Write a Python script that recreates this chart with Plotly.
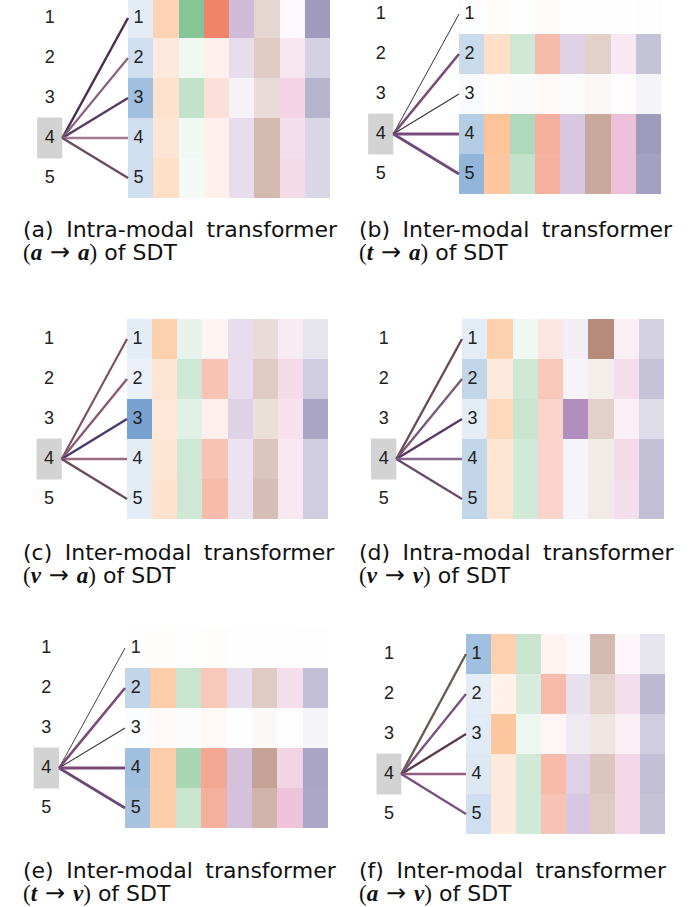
import plotly.graph_objects as go

# ---------------- data ----------------
ROWS = [1, 2, 3, 4, 5]
ROW_LABELS = ["1", "2", "3", "4", "5"]
FOCUS_ROW = 4
N_COLS = 8

# colour of each heat-map column at full intensity
COLUMN_COLORS = ["#78a3d0", "#fdc49a", "#86c596", "#f08468",
                 "#b08fc0", "#b78b7c", "#ebbdd6", "#9f9bbe"]

# attention intensities (rows 1..5, columns 1..8)
panel_a = [
    [0.20, 0.75, 1.00, 1.00, 0.60, 0.35, 0.10, 1.00],
    [0.35, 0.35, 0.12, 0.12, 0.30, 0.45, 0.40, 0.45],
    [0.70, 0.50, 0.50, 0.25, 0.12, 0.30, 0.65, 0.75],
    [0.35, 0.45, 0.12, 0.12, 0.30, 0.60, 0.50, 0.40],
    [0.35, 0.55, 0.10, 0.12, 0.30, 0.60, 0.55, 0.40],
]
panel_b = [
    [0.02, 0.03, 0.02, 0.03, 0.01, 0.01, 0.01, 0.02],
    [0.40, 0.55, 0.40, 0.55, 0.40, 0.40, 0.35, 0.60],
    [0.05, 0.05, 0.05, 0.05, 0.03, 0.06, 0.05, 0.10],
    [0.55, 1.00, 0.65, 0.65, 0.50, 0.75, 0.95, 1.00],
    [0.80, 0.95, 0.50, 0.63, 0.50, 0.75, 0.95, 0.95],
]
panel_c = [
    [0.20, 0.80, 0.20, 0.08, 0.30, 0.30, 0.30, 0.25],
    [0.15, 0.45, 0.40, 0.50, 0.30, 0.45, 0.55, 0.50],
    [1.00, 0.40, 0.25, 0.13, 0.40, 0.28, 0.45, 0.90],
    [0.20, 0.45, 0.40, 0.50, 0.25, 0.50, 0.35, 0.50],
    [0.20, 0.50, 0.40, 0.55, 0.25, 0.55, 0.35, 0.50],
]
panel_d = [
    [0.20, 0.80, 0.12, 0.20, 0.15, 1.00, 0.25, 0.45],
    [0.45, 0.35, 0.40, 0.45, 0.10, 0.15, 0.50, 0.60],
    [0.20, 0.65, 0.45, 0.35, 1.00, 0.40, 0.25, 0.35],
    [0.45, 0.45, 0.38, 0.35, 0.10, 0.18, 0.55, 0.62],
    [0.45, 0.45, 0.38, 0.35, 0.10, 0.18, 0.50, 0.65],
]
panel_e = [
    [0.01, 0.02, 0.01, 0.02, 0.01, 0.01, 0.01, 0.02],
    [0.45, 0.85, 0.45, 0.45, 0.30, 0.45, 0.50, 0.65],
    [0.03, 0.08, 0.03, 0.05, 0.01, 0.05, 0.03, 0.10],
    [0.70, 0.85, 0.70, 0.72, 0.55, 0.80, 0.65, 0.90],
    [0.65, 0.85, 0.45, 0.65, 0.55, 0.65, 0.90, 0.88],
]
panel_f = [
    [0.70, 0.80, 0.45, 0.10, 0.05, 0.60, 0.15, 0.25],
    [0.20, 0.20, 0.33, 0.55, 0.28, 0.38, 0.50, 0.70],
    [0.22, 0.95, 0.15, 0.07, 0.20, 0.22, 0.25, 0.50],
    [0.25, 0.35, 0.38, 0.55, 0.42, 0.50, 0.60, 0.65],
    [0.35, 0.35, 0.38, 0.50, 0.50, 0.45, 0.60, 0.60],
]

# link weights from the focus token (row 4) to rows 1..5
links_a = [0.75, 0.60, 0.75, 0.85, 0.70]
links_b = [0.05, 0.85, 0.10, 1.00, 0.85]
links_c = [0.60, 0.70, 0.75, 0.85, 0.70]
links_d = [0.70, 0.70, 0.75, 0.85, 0.70]
links_e = [0.05, 0.85, 0.10, 1.00, 0.85]
links_f = [0.70, 0.70, 0.70, 0.85, 0.70]

# link colours (styles)
link_colors_a = ["#4a2d4f", "#8a6080", "#5a3a64", "#a07890", "#6a4a64"]
link_colors_b = ["#222222", "#7a4c78", "#333333", "#7a4a78", "#6e4a78"]
link_colors_c = ["#7a5060", "#8a5a72", "#4a3a70", "#9a6a80", "#6a4a5a"]
link_colors_d = ["#6a4a52", "#7a5a74", "#5a3a64", "#8a6a8a", "#6a4a6a"]
link_colors_e = ["#333333", "#7a4c78", "#333333", "#7a4a78", "#6e4a78"]
link_colors_f = ["#6a5a50", "#7a5080", "#5a3a4a", "#906080", "#7a5080"]

CAPTION_TAG = ["(a)", "(b)", "(c)", "(d)", "(e)", "(f)"]
CAPTION_KIND = ["Intra-modal", "Inter-modal", "Inter-modal",
                "Intra-modal", "Inter-modal", "Inter-modal"]
CAPTION_SRC = ["a", "t", "v", "v", "t", "a"]
CAPTION_DST = ["a", "a", "a", "v", "v", "v"]

PANELS = [panel_a, panel_b, panel_c, panel_d, panel_e, panel_f]
LINKS = [links_a, links_b, links_c, links_d, links_e, links_f]
LINK_COLORS = [link_colors_a, link_colors_b, link_colors_c,
               link_colors_d, link_colors_e, link_colors_f]

# ---------------- layout (pixels) ----------------
W, H = 692, 907
ROW_PX = 40
# heat-map left/right edge, centre of row 1, caption anchor
GEOM = [
    dict(hl=128, hr=330, c1=18, cx=21, cy=229),
    dict(hl=459, hr=661, c1=14, cx=357, cy=229),
    dict(hl=127, hr=328, c1=339, cx=21, cy=552),
    dict(hl=462, hr=664, c1=339, cx=357, cy=552),
    dict(hl=125, hr=328, c1=648, cx=21, cy=870),
    dict(hl=466, hr=665, c1=654, cx=357, cy=870),
]
LABEL_X = -3.6
BOX_HALF = 0.5
LINE_END_X = -0.5
XMIN = -4.5
LINE_GAP = 23

TEXT_FONT = dict(family="Liberation Sans, Arial, sans-serif", size=18, color="#222222")
CAP_FONT = dict(family="DejaVu Sans, sans-serif", size=22, color="#111111")
SERIF = "font-family:'Liberation Serif',serif;font-size:23px"
ARROW = "font-family:'DejaVu Sans',sans-serif;font-size:24px"


def build_colorscale(colors):
    n = len(colors)
    cs = []
    for c, col in enumerate(colors):
        cs.append([c / n, "#ffffff"])
        cs.append([(c + 1) / n - 1e-6, col])
    cs[-1][0] = 1.0
    return cs


COLORSCALE = build_colorscale(COLUMN_COLORS)

fig = go.Figure()
layout_axes = {}

for i, (vals, links, lcols, g) in enumerate(zip(PANELS, LINKS, LINK_COLORS, GEOM)):
    k = "" if i == 0 else str(i + 1)
    xref, yref = "x" + k, "y" + k

    # links from focus row to each row
    for r, w, col in zip(ROWS, links, lcols):
        fig.add_trace(go.Scatter(
            x=[LABEL_X + BOX_HALF, LINE_END_X], y=[FOCUS_ROW, r],
            mode="lines", line=dict(color=col, width=0.8 + 2.2 * w),
            hoverinfo="skip", showlegend=False, xaxis=xref, yaxis=yref))

    # heat map: each column uses its own colour ramp
    z = [[c + 0.999 * v for c, v in enumerate(row)] for row in vals]
    fig.add_trace(go.Heatmap(
        z=z, x=list(range(N_COLS)), y=ROWS, zmin=0, zmax=N_COLS,
        colorscale=COLORSCALE, showscale=False, hoverinfo="skip",
        xaxis=xref, yaxis=yref))

    # token labels inside first column
    fig.add_trace(go.Scatter(
        x=[-0.08] * len(ROWS), y=ROWS, text=ROW_LABELS, mode="text",
        textfont=TEXT_FONT, hoverinfo="skip", showlegend=False,
        xaxis=xref, yaxis=yref))
    # token labels on the left
    fig.add_trace(go.Scatter(
        x=[LABEL_X] * len(ROWS), y=ROWS, text=ROW_LABELS, mode="text",
        textfont=TEXT_FONT, hoverinfo="skip", showlegend=False,
        xaxis=xref, yaxis=yref))

    # grey box behind the focus token
    fig.add_shape(type="rect", xref=xref, yref=yref,
                  x0=LABEL_X - BOX_HALF, x1=LABEL_X + BOX_HALF,
                  y0=FOCUS_ROW - 0.51, y1=FOCUS_ROW + 0.51,
                  fillcolor="#d3d3d3", line=dict(width=0), layer="below")

    colw = (g["hr"] - g["hl"]) / N_COLS
    px_left = g["hl"] + (XMIN + 0.5) * colw
    top = max(0, g["c1"] - 22)
    bot = min(H, g["c1"] + 190)
    y_top = 1 + (top - g["c1"]) / ROW_PX
    y_bot = 1 + (bot - g["c1"]) / ROW_PX

    layout_axes["xaxis" + k] = dict(domain=[px_left / W, g["hr"] / W],
                                    range=[XMIN, N_COLS - 0.5], visible=False,
                                    anchor=yref, fixedrange=True)
    layout_axes["yaxis" + k] = dict(domain=[1 - bot / H, 1 - top / H],
                                    range=[y_bot, y_top], visible=False,
                                    anchor=xref, fixedrange=True)

    # caption
    line1 = CAPTION_TAG[i] + "\u2005 " + CAPTION_KIND[i] + "\u2005 transformer"
    fig.add_annotation(xref="paper", yref="paper", x=g["cx"] / W, y=1 - g["cy"] / H,
                       xanchor="left", yanchor="middle", showarrow=False,
                       text=line1, font=CAP_FONT)
    line2 = ("<span style=\"" + SERIF + "\">(<b><i>" + CAPTION_SRC[i] + "</i></b></span>"
             + "<span style=\"" + ARROW + "\">\u2004\u2192\u2004</span>"
             + "<span style=\"" + SERIF + "\"><b><i>" + CAPTION_DST[i] + "</i></b>)</span>"
             + " of SDT")
    fig.add_annotation(xref="paper", yref="paper", x=g["cx"] / W,
                       y=1 - (g["cy"] + LINE_GAP) / H,
                       xanchor="left", yanchor="middle", showarrow=False,
                       text=line2, font=CAP_FONT)

fig.update_layout(width=W, height=H, margin=dict(l=0, r=0, t=0, b=0),
                  paper_bgcolor="white", plot_bgcolor="white", **layout_axes)

fig.write_html("out.html", config={"displayModeBar": False},
               post_script="document.body.style.margin='0';document.body.style.padding='0';")
